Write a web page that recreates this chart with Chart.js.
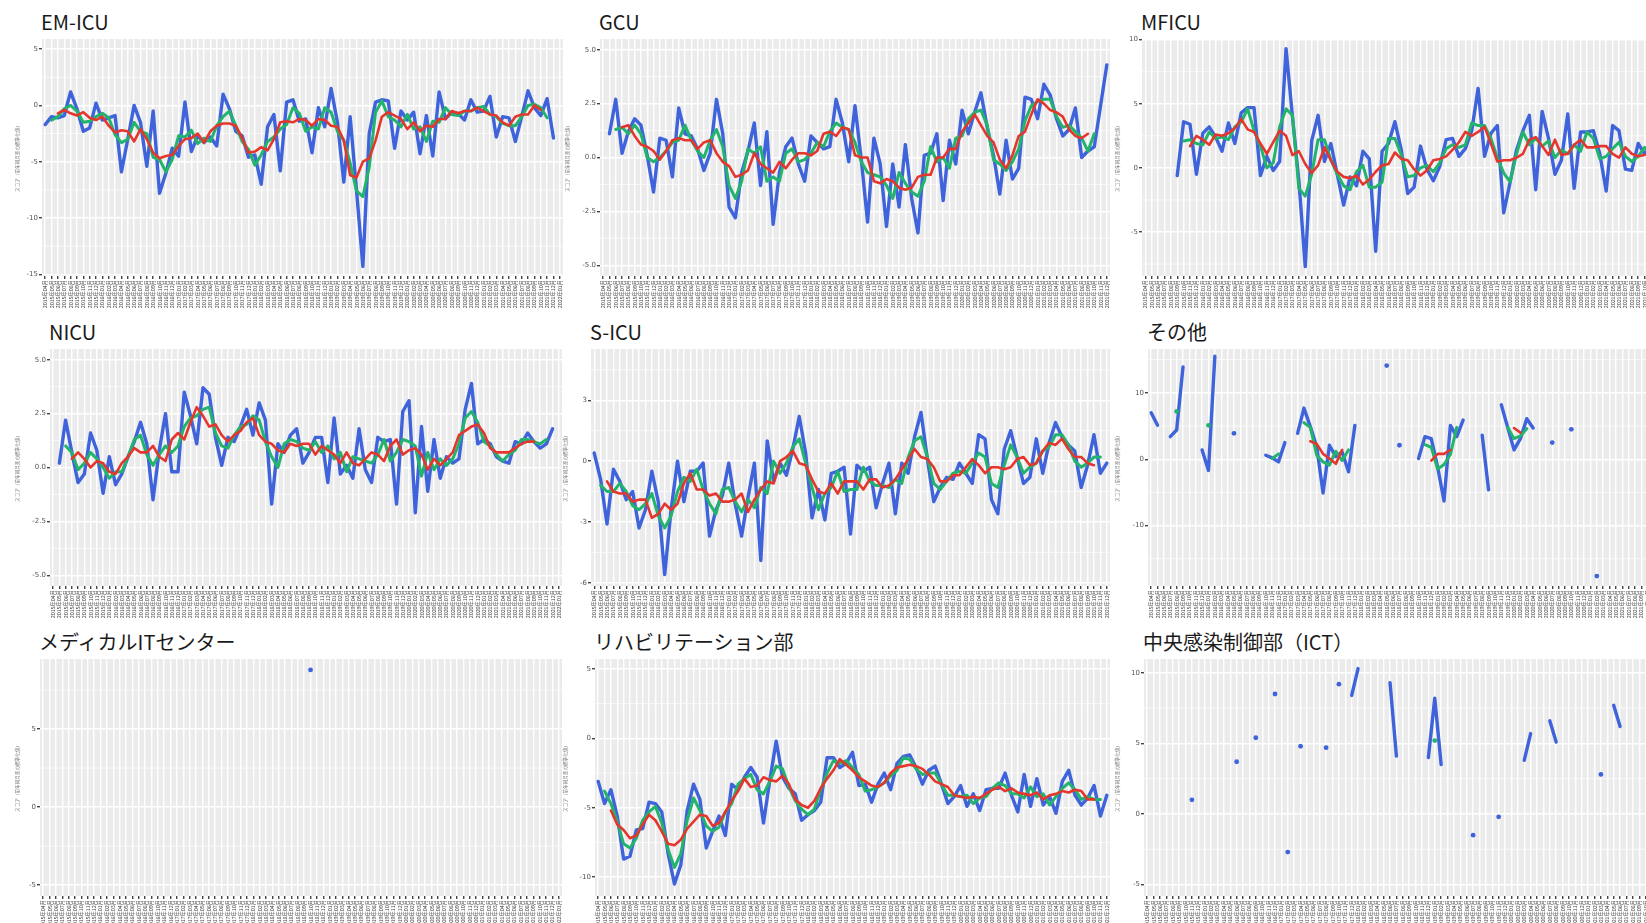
<!DOCTYPE html>
<html><head><meta charset="utf-8">
<script src="https://cdn.jsdelivr.net/npm/chart.js@4.4.1/dist/chart.umd.min.js"></script>
<style>
html,body{margin:0;padding:0;background:#fff;}
body{width:1646px;height:923px;overflow:hidden;position:relative;font-family:"Noto Sans CJK JP","Noto Sans",sans-serif;}
.title{position:absolute;font-size:20px;line-height:24px;height:24px;color:#1a1a1a;white-space:nowrap;}
.box{position:absolute;}
</style></head><body>
<script>
// ---------- categories (months) ----------
const months = ["2015年04月","2015年05月","2015年06月","2015年07月","2015年08月","2015年09月","2015年10月","2015年11月","2015年12月",
"2016年01月","2016年02月","2016年03月","2016年04月","2016年05月","2016年06月","2016年07月","2016年08月","2016年09月","2016年10月","2016年11月","2016年12月",
"2017年01月","2017年02月","2017年03月","2017年04月","2017年05月","2017年06月","2017年07月","2017年08月","2017年09月","2017年10月","2017年11月","2017年12月",
"2018年01月","2018年02月","2018年03月","2018年04月","2018年05月","2018年06月","2018年07月","2018年08月","2018年09月","2018年10月","2018年11月","2018年12月",
"2019年01月","2019年02月","2019年03月","2019年04月","2019年05月","2019年06月","2019年07月","2019年08月","2019年09月","2019年10月","2019年11月","2019年12月",
"2020年01月","2020年02月","2020年03月","2020年04月","2020年05月","2020年06月","2020年07月","2020年08月","2020年09月","2020年10月","2020年11月","2020年12月",
"2021年01月","2021年02月","2021年03月","2021年04月","2021年05月","2021年06月","2021年07月","2021年08月","2021年09月","2021年10月","2021年11月","2021年12月",
"2022年01月"];
const yTitle = "スコア（前年同月差の標準化値）";

// ---------- EM-ICU ----------
const emicuBlue = [-1.7,-1.0,-1.1,-0.9,1.2,-0.3,-2.3,-2.0,0.2,-1.3,-1.1,-0.9,-5.9,-3.0,0.0,-1.5,-5.4,-0.5,-7.8,-6.0,-3.8,-4.5,0.3,-4.1,-2.7,-3.3,-2.8,-3.6,1.0,-0.3,-2.3,-2.7,-4.6,-4.4,-7.0,-1.9,-0.8,-5.8,0.3,0.5,-1.4,-1.2,-4.2,-0.2,-1.9,1.5,-1.5,-6.8,-1.0,-7.5,-14.3,-2.5,0.3,0.5,0.4,-3.8,-0.5,-1.3,-0.6,-4.3,-0.9,-4.5,1.2,-1.2,-0.6,-0.7,-1.3,0.5,-0.6,-0.5,0.8,-2.8,-1.0,-1.1,-3.2,-1.0,1.3,-0.2,-0.9,0.6,-2.9];
const emicuGreen = [null,-1.3,-1.0,-0.3,0.0,-0.5,-1.5,-1.4,-1.0,-0.7,-1.1,-2.6,-3.3,-3.0,-1.5,-2.3,-2.5,-4.6,-4.8,-5.9,-4.8,-2.7,-2.8,-2.2,-3.4,-2.9,-3.2,-1.8,-1.0,-0.5,-1.8,-3.2,-3.9,-5.3,-4.4,-3.2,-2.8,-2.1,-1.7,-0.2,-0.7,-2.3,-1.9,-2.1,-0.2,-0.6,-2.3,-3.1,-5.1,-7.6,-8.1,-5.5,-0.6,0.4,-1.0,-1.3,-1.9,-0.8,-2.1,-1.9,-3.2,-1.4,-1.5,-0.2,-0.8,-0.9,-0.5,-0.5,-0.2,-0.1,-0.8,-1.0,-1.6,-1.8,-1.8,-1.0,0.0,0.1,-0.2,-1.1,null];
const emicuRed = [null,null,-0.7,-0.4,-0.7,-0.9,-0.6,-1.1,-1.3,-1.0,-1.8,-2.4,-2.2,-2.3,-3.2,-2.1,-3.0,-4.2,-4.7,-4.5,-4.4,-3.6,-3.0,-2.9,-2.5,-3.3,-2.3,-1.8,-1.6,-1.6,-1.8,-2.9,-4.2,-4.1,-3.7,-4.0,-3.0,-1.5,-1.4,-1.5,-1.2,-1.3,-1.8,-1.2,-1.3,-1.8,-1.9,-3.1,-6.2,-6.4,-5.0,-4.7,-3.1,-1.0,-0.6,-0.9,-1.2,-2.1,-1.5,-2.3,-1.8,-1.9,-1.2,-1.2,-0.5,-0.7,-0.5,-0.5,-0.2,-0.5,-0.8,-0.9,-1.5,-1.8,-1.0,-0.8,-0.8,0.0,-0.4,null,null];

// ---------- GCU ----------
const gcuBlue = [1.1,2.7,0.2,1.2,1.8,1.5,0.1,-1.6,0.9,0.8,-0.9,2.3,1.1,1.0,0.4,-0.6,0.2,2.7,1.1,-2.3,-2.8,-0.7,0.3,1.6,-1.3,1.2,-3.1,-0.7,0.5,0.9,-0.3,-1.1,1.0,0.7,0.4,0.5,2.7,1.6,-0.2,2.4,-0.1,-3.0,0.9,-0.3,-3.2,-0.3,-2.3,0.6,-1.9,-3.5,0.1,0.2,1.1,-2.0,0.8,-0.3,2.2,1.1,2.1,3.0,1.4,0.1,-1.7,0.8,-1.0,-0.5,2.8,2.7,1.8,3.4,2.9,1.8,1.0,1.3,2.3,0.0,0.3,0.5,2.4,4.3];
const gcuGreen = [null,1.3,1.4,1.1,1.5,1.1,0.0,-0.2,0.0,0.3,0.7,0.8,1.5,0.8,0.3,0.0,0.8,1.3,0.5,-1.3,-1.9,-1.1,0.4,0.2,0.5,-1.1,-0.9,-1.1,0.2,0.4,-0.2,-0.1,0.2,0.7,0.5,1.2,1.6,1.4,1.3,0.7,-0.2,-0.7,-0.8,-0.9,-1.3,-1.9,-0.7,-1.2,-1.6,-1.8,-1.1,0.5,-0.2,0.0,-0.5,0.9,1.0,1.8,2.1,2.2,1.5,-0.1,-0.3,-0.6,-0.2,0.4,1.7,2.4,2.6,2.7,2.7,1.9,1.4,1.5,1.2,0.9,0.3,1.1,null,null];
const gcuRed = [null,null,1.4,1.5,1.0,0.6,0.5,0.3,-0.1,0.3,0.8,0.9,0.8,0.8,0.4,0.7,0.8,0.2,-0.2,-0.4,-0.9,-0.8,-0.6,0.2,-0.3,-0.5,-0.7,-0.2,-0.5,-0.1,0.2,0.2,0.1,0.3,1.1,1.2,1.0,1.4,1.3,0.1,0.0,0.0,-1.1,-1.2,-1.0,-1.1,-1.4,-1.5,-1.4,-0.9,-0.8,-0.8,0.0,0.0,0.4,0.4,1.2,1.6,2.0,1.5,1.0,0.7,-0.1,-0.5,0.1,1.0,1.2,2.0,2.7,2.5,2.2,2.1,1.9,1.3,1.0,0.9,1.1,null,null,null];

// ---------- MFICU ----------
const mficuBlue = [-0.6,3.6,3.4,-0.5,2.7,3.2,2.4,1.3,3.5,1.9,4.3,4.7,4.7,-0.6,0.9,-0.2,0.5,9.3,4.0,-1.0,-7.7,2.1,4.1,0.5,1.9,-0.5,-2.9,-0.7,-1.4,1.3,0.7,-6.5,1.3,1.9,3.6,1.4,-2.0,-1.5,1.7,-0.1,-1.0,0.1,2.2,2.3,0.9,1.5,2.9,6.2,0.9,2.7,3.3,-3.5,-1.1,1.4,2.9,4.1,-1.7,4.4,2.3,-0.5,0.6,4.2,-1.6,2.8,2.8,2.9,1.1,-1.8,3.3,2.9,-0.1,-0.2,1.9,1.1,1.7,0.6];
const mficuGreen = [null,2.1,2.2,1.9,1.8,2.8,2.3,2.4,2.2,3.2,3.6,4.6,2.9,1.7,0.0,0.4,3.2,4.6,4.1,-1.6,-2.2,-0.5,2.2,2.2,0.6,-0.5,-1.4,-1.7,-0.3,0.2,-1.5,-1.5,-1.1,2.3,2.3,1.0,-0.7,-0.6,0.0,0.2,-0.3,0.4,1.5,1.8,1.6,1.8,3.5,3.3,3.3,2.3,0.8,-0.4,-1.1,1.1,2.8,1.8,2.3,1.7,2.1,0.8,1.4,1.1,1.8,1.3,2.8,2.3,0.7,0.9,1.5,2.0,0.9,0.5,0.9,1.6,1.1,null];
const mficuRed = [null,null,1.7,2.5,2.2,1.8,2.6,2.5,2.7,3.1,3.8,3.0,2.8,1.9,1.1,2.0,2.9,2.5,1.0,1.3,0.3,-0.4,0.2,1.6,0.6,-0.3,-0.7,-0.8,-0.6,-1.3,-0.9,-0.3,0.2,0.3,1.2,0.7,0.6,-0.1,-0.6,-0.2,0.6,0.7,0.9,1.4,2.0,2.8,2.5,2.8,3.2,1.9,0.5,0.6,0.6,0.8,1.1,2.2,2.4,1.7,1.0,2.2,1.0,1.1,1.8,2.2,1.6,1.6,1.7,1.7,1.1,0.8,1.6,1.1,0.9,1.0,null,null];

// ---------- NICU ----------
const nicuBlue = [0.2,2.2,0.7,-0.7,-0.3,1.6,0.8,-1.2,0.5,-0.8,-0.3,0.5,1.2,2.1,1.1,-1.5,0.8,2.5,-0.2,-0.2,3.5,2.4,1.1,3.7,3.4,1.4,0.1,1.4,1.2,1.9,2.7,1.5,3.0,2.2,-1.7,1.1,0.7,1.5,1.8,0.2,0.7,1.4,1.4,-0.7,2.3,-0.3,0.1,-0.5,1.8,-0.1,-0.7,1.4,1.2,1.3,-1.7,2.6,3.1,-2.1,1.9,-1.1,1.3,-0.5,0.5,0.2,0.4,2.7,3.9,1.1,1.3,1.1,0.5,0.3,0.2,1.2,1.1,1.6,1.2,0.9,1.1,1.8];
const nicuGreen = [null,1.0,0.7,-0.1,0.2,0.7,0.4,0.0,-0.5,-0.2,-0.2,0.5,1.3,1.5,0.6,0.1,0.6,1.0,0.7,1.0,1.9,2.3,2.4,2.7,2.8,1.6,1.0,0.9,1.5,1.9,2.0,2.4,2.2,1.2,0.5,0.0,1.1,1.3,1.2,0.9,0.8,1.2,0.7,1.0,0.4,0.7,-0.2,0.5,0.4,0.3,0.2,0.6,1.3,0.3,0.7,1.3,1.2,1.0,-0.4,0.7,-0.1,0.4,0.1,0.4,1.1,2.3,2.6,2.1,1.2,1.0,0.6,0.3,0.6,0.8,1.3,1.3,1.2,1.1,1.3,null];
const nicuRed = [null,null,0.4,0.7,0.4,0.0,0.3,0.2,-0.2,-0.3,0.2,0.5,0.9,0.7,0.7,1.0,0.5,0.3,1.3,1.6,1.3,2.1,2.8,2.4,1.9,2.0,1.5,1.2,1.5,1.7,2.1,2.3,1.5,1.2,1.1,0.8,0.7,1.1,1.0,1.1,1.1,0.6,1.0,0.8,0.6,0.2,0.7,0.2,0.1,0.4,0.7,0.6,0.3,1.0,1.3,0.6,0.8,0.9,0.6,-0.1,0.4,0.1,0.4,0.7,1.5,1.7,1.9,2.0,1.6,0.9,0.7,0.7,0.7,0.9,1.1,1.2,1.2,null,null,null];

// ---------- S-ICU ----------
const sicuBlue = [0.4,-0.9,-3.1,-0.4,-1.0,-1.9,-1.5,-3.3,-2.4,-0.5,-2.0,-5.6,-2.4,0.0,-2.0,-0.5,-0.5,-0.1,-3.7,-2.4,-1.7,-0.1,-2.1,-3.7,-1.8,-0.1,-4.9,1.0,-1.0,-0.1,-0.7,0.6,2.2,0.4,-2.8,-1.4,-2.9,-0.6,-0.5,-0.3,-3.6,-0.2,-0.5,-0.3,-2.3,-1.1,-0.1,-2.6,-0.1,-0.6,1.2,2.4,0.1,-2.0,-1.3,-0.8,-0.9,-0.1,-0.6,-1.1,1.3,1.1,-1.9,-2.6,0.6,1.5,0.2,-1.1,-0.8,1.1,-0.6,0.9,1.9,1.2,0.8,0.5,-1.3,-0.2,1.3,-0.6,-0.1];
const sicuGreen = [null,-1.2,-1.5,-1.5,-1.1,-1.5,-2.2,-2.4,-2.1,-1.6,-2.7,-3.3,-2.7,-1.5,-0.8,-1.0,-0.4,-1.4,-2.1,-2.6,-1.4,-1.3,-2.0,-2.5,-1.9,-2.3,-1.3,-1.6,0.0,-0.6,-0.1,0.7,1.1,-0.1,-1.3,-2.4,-1.6,-1.3,-0.5,-1.5,-1.4,-1.4,-0.3,-1.0,-1.2,-1.2,-1.3,-0.9,-1.1,0.2,1.0,1.2,0.2,-1.1,-1.4,-1.0,-0.6,-0.5,-0.6,-0.1,0.4,0.2,-1.1,-1.3,-0.2,0.8,0.2,-0.6,-0.3,-0.1,0.5,0.7,1.3,1.3,0.8,0.0,-0.3,-0.1,0.2,0.2,null];
const sicuRed = [null,null,-1.0,-1.5,-1.6,-1.6,-2.0,-1.9,-1.9,-2.8,-2.6,-2.1,-2.4,-2.1,-1.1,-0.6,-1.4,-1.4,-1.7,-1.6,-2.0,-2.0,-1.9,-1.6,-2.5,-1.9,-1.4,-1.0,-1.1,0.0,0.2,0.5,-0.1,-0.2,-0.9,-1.5,-1.6,-1.1,-1.6,-1.0,-1.0,-1.0,-1.4,-0.9,-0.9,-1.3,-1.2,-0.9,-0.4,0.1,0.6,0.2,0.1,-0.3,-1.0,-1.0,-0.7,-0.7,-0.3,0.1,-0.2,-0.6,-0.3,-0.3,-0.4,-0.3,0.1,0.2,-0.2,-0.1,0.5,0.9,0.8,1.1,0.6,0.2,0.2,-0.1,-0.2,null,null];

// ---------- その他 (sparse: category index / value) ----------
const otherBlueIdx = [0,1,3,4,5,8,9,10,13,18,19,20,21,23,24,25,26,27,28,29,30,31,32,37,39,42,43,44,45,46,47,48,49,52,53,55,56,57,58,59,60,63,66,70];
const otherBlueVal = [7.0,5.1,3.4,4.4,13.9,1.4,-1.7,15.5,3.9,0.6,0.2,-0.4,2.5,3.9,7.7,4.9,1.9,-5.1,2.1,0.4,1.1,-1.9,5.1,14.1,2.1,0.1,3.4,3.1,-1.2,-6.3,5.1,3.4,5.9,3.6,-4.6,8.2,4.8,1.4,3.1,6.1,4.7,2.5,4.5,-17.6];
const otherGreenIdx = [4,9,19,20,24,25,26,27,28,29,30,31,43,44,45,46,47,48,56,57,58,59];
const otherGreenVal = [7.2,5.1,0.1,0.8,5.5,4.8,0.6,-0.4,-0.9,1.2,-0.2,1.4,2.2,1.8,-1.5,-0.8,0.7,4.8,4.8,3.1,3.5,4.6];
const otherRedIdx = [25,26,27,28,29,30,44,45,46,47,57,58];
const otherRedVal = [2.7,2.3,0.8,0.1,-0.7,1.4,-0.2,0.8,0.8,1.4,4.7,4.0];

// ---------- メディカルITセンター ----------
const medBlueIdx = [42];
const medBlueVal = [8.8];

// ---------- リハビリテーション部 ----------
const rehaBlue = [-3.1,-4.7,-3.7,-5.6,-8.7,-8.5,-6.6,-6.5,-4.6,-4.7,-5.3,-8.3,-10.5,-9.1,-5.2,-3.3,-4.4,-7.9,-6.7,-5.6,-7.0,-3.3,-3.7,-2.8,-2.1,-2.8,-6.1,-3.0,-0.2,-2.8,-3.6,-4.0,-5.9,-5.5,-5.2,-4.6,-1.4,-1.4,-2.1,-1.8,-1.0,-3.4,-3.3,-4.6,-3.3,-2.5,-3.7,-1.8,-1.3,-1.2,-2.1,-3.3,-2.3,-2.0,-3.3,-4.7,-4.2,-3.4,-4.9,-4.0,-5.2,-3.7,-3.6,-3.6,-2.5,-4.1,-5.3,-2.6,-4.9,-2.9,-4.8,-4.2,-5.4,-3.1,-2.3,-4.1,-4.8,-4.3,-3.4,-5.6,-4.1];
const rehaGreen = [null,-3.8,-4.7,-6.0,-7.6,-7.9,-7.2,-5.9,-5.3,-4.9,-6.1,-8.0,-9.3,-8.3,-5.9,-4.3,-5.2,-6.3,-6.7,-6.4,-5.3,-4.7,-3.3,-2.9,-2.6,-3.7,-4.0,-3.1,-2.0,-2.2,-3.5,-4.5,-5.1,-5.5,-5.1,-3.7,-2.5,-1.6,-1.8,-1.6,-2.1,-2.6,-3.8,-3.7,-3.5,-3.2,-2.7,-2.3,-1.4,-1.5,-2.2,-2.6,-2.5,-2.5,-3.3,-4.1,-4.1,-4.2,-4.1,-4.7,-4.3,-4.2,-3.6,-3.2,-3.4,-4.0,-4.0,-4.3,-3.5,-4.2,-4.0,-4.8,-4.2,-3.6,-3.2,-3.7,-4.4,-4.2,-4.4,-4.4,null];
const rehaRed = [null,null,-5.2,-6.2,-6.6,-7.2,-7.0,-6.2,-5.5,-5.9,-6.7,-7.6,-7.7,-7.3,-6.5,-6.0,-5.5,-5.6,-6.3,-6.1,-5.3,-4.5,-3.8,-2.9,-3.5,-3.4,-2.8,-3.0,-3.1,-2.7,-3.3,-4.4,-4.8,-5.0,-4.5,-3.6,-2.9,-2.3,-1.5,-1.9,-2.3,-2.8,-3.1,-3.4,-3.5,-3.2,-2.5,-2.1,-2.0,-1.9,-2.0,-2.2,-2.6,-3.1,-3.3,-3.5,-4.1,-4.2,-4.3,-4.2,-4.3,-4.0,-3.7,-3.5,-3.8,-3.6,-3.9,-4.0,-4.1,-3.9,-4.4,-4.1,-4.0,-3.8,-3.9,-3.7,-3.8,-4.4,-4.4,null,null];

// ---------- 中央感染制御部（ICT） ----------
const ictBlueIdx = [7,14,17,20,22,24,28,30,32,33,38,39,44,45,46,51,55,59,60,63,64,71,73,74];
const ictBlueVal = [1.0,3.7,5.4,8.5,-2.7,4.8,4.7,9.2,8.4,10.3,9.3,4.1,4.0,8.2,3.5,-1.5,-0.2,3.8,5.7,6.6,5.1,2.8,7.7,6.2];
const ictGreenIdx = [45];
const ictGreenVal = [5.2];

// ---------- helpers that build full-length tables ----------
function place(arr, start, n){ const a = new Array(n).fill(null); arr.forEach((v,i)=>{ if(start+i<n) a[start+i]=v; }); return a; }
function scatterTo(idx, vals, n){ const a = new Array(n).fill(null); idx.forEach((k,i)=>{ a[k]=vals[i]; }); return a; }

const BLUE = '#3F63DA', GREEN = '#22B46C', RED = '#E5362E';

const panels = [
  {title:'EM-ICU', left:42, top:39, w:521, yW:28, n:82, blue:place(emicuBlue,0,82), green:place(emicuGreen,0,82), red:place(emicuRed,0,82), min:-15.15, max:5.9, step:5, dec:0},
  {title:'GCU', left:600, top:39, w:510, yW:36, n:81, blue:place(gcuBlue,1,81), green:place(gcuGreen,1,81), red:place(gcuRed,1,81), min:-5.5, max:5.5, step:2.5, dec:1},
  {title:'MFICU', left:1142, top:39, w:525, yW:28, n:82, blue:place(mficuBlue,5,82), green:place(mficuGreen,5,82), red:place(mficuRed,5,82), min:-8.43, max:10.05, step:5, dec:0},
  {title:'NICU', left:50, top:349, w:512, yW:36, n:82, blue:place(nicuBlue,1,82), green:place(nicuGreen,1,82), red:place(nicuRed,1,82), min:-5.5, max:5.5, step:2.5, dec:1},
  {title:'S-ICU', left:591, top:349, w:519, yW:29, n:81, blue:place(sicuBlue,0,81), green:place(sicuGreen,0,81), red:place(sicuRed,0,81), min:-6.16, max:5.53, step:3, dec:0},
  {title:'その他', left:1148, top:349, w:522, yW:34, n:82, blue:scatterTo(otherBlueIdx,otherBlueVal,82), green:scatterTo(otherGreenIdx,otherGreenVal,82), red:scatterTo(otherRedIdx,otherRedVal,82), min:-19.1, max:16.6, step:10, dec:0},
  {title:'メディカルITセンター', left:40, top:659, w:522, yW:26, n:82, blue:scatterTo(medBlueIdx,medBlueVal,82), green:new Array(82).fill(null), red:new Array(82).fill(null), min:-5.7, max:9.5, step:5, dec:0},
  {title:'リハビリテーション部', left:595, top:659, w:515, yW:33, n:81, blue:place(rehaBlue,0,81), green:place(rehaGreen,0,81), red:place(rehaRed,0,81), min:-11.36, max:5.72, step:5, dec:0},
  {title:'中央感染制御部（ICT）', left:1144, top:659, w:524, yW:30, n:82, blue:scatterTo(ictBlueIdx,ictBlueVal,82), green:scatterTo(ictGreenIdx,ictGreenVal,82), red:new Array(82).fill(null), min:-5.81, max:10.98, step:5, dec:0}
];

const PLOT_H = 237, X_H = 34, PAD_T = 6;

const panelBg = { id:'panelBg', beforeDraw(chart){ const {ctx, chartArea:a} = chart; ctx.save(); ctx.fillStyle='#EBEBEB'; ctx.fillRect(a.left,a.top,a.right-a.left,a.bottom-a.top); ctx.restore(); } };
const minorGrid = { id:'minorGrid', beforeDatasetsDraw(chart){
  const y = chart.scales.y, a = chart.chartArea, ctx = chart.ctx;
  const t = y.ticks.map(k=>k.value); if (t.length < 2) return;
  const st = t[1]-t[0];
  ctx.save(); ctx.strokeStyle='#FFFFFF'; ctx.lineWidth=0.7;
  for (let v = t[0]-st/2; v <= y.max; v += st) { if (v < y.min) continue; const py = y.getPixelForValue(v); ctx.beginPath(); ctx.moveTo(a.left,py); ctx.lineTo(a.right,py); ctx.stroke(); }
  ctx.restore(); } };

function isoRadius(ctx){
  const d = ctx.dataset.data, i = ctx.dataIndex;
  if (d[i] == null) return 0;
  const p = i>0 ? d[i-1] : null, q = i<d.length-1 ? d[i+1] : null;
  return (p == null && q == null) ? 2.4 : 0;
}

panels.forEach(p => {
  const t = document.createElement('div');
  t.className = 'title'; t.textContent = p.title;
  t.style.left = (p.left - 1) + 'px'; t.style.top = (p.top - 29) + 'px';
  document.body.appendChild(t);

  const box = document.createElement('div');
  box.className = 'box';
  box.style.left = (p.left - p.yW) + 'px'; box.style.top = (p.top - PAD_T) + 'px';
  box.style.width = (p.w + p.yW) + 'px'; box.style.height = (PLOT_H + X_H + PAD_T) + 'px';
  const cv = document.createElement('canvas');
  box.appendChild(cv); document.body.appendChild(box);

  const mk = (data, color, width, order) => ({data, borderColor:color, backgroundColor:color, pointBackgroundColor:color, pointBorderWidth:0, borderWidth:width, order, spanGaps:false, tension:0, pointRadius:isoRadius, pointHoverRadius:0, borderJoinStyle:'round', borderCapStyle:'round'});

  new Chart(cv, {
    type:'line',
    data:{ labels: months.slice(0, p.n), datasets:[ mk(p.red, RED, 2.6, 0), mk(p.green, GREEN, 3.0, 1), mk(p.blue, BLUE, 3.4, 2) ] },
    options:{
      responsive:true, maintainAspectRatio:false, animation:false, devicePixelRatio:1,
      layout:{padding:{top:PAD_T, left:0, right:0, bottom:0}},
      events:[],
      plugins:{legend:{display:false}, tooltip:{enabled:false}, title:{display:false}},
      scales:{
        x:{ type:'category', offset:true,
            grid:{color:'#FFFFFF', lineWidth:1.4, tickColor:'#444', tickLength:3, drawTicks:true, offset:false},
            border:{display:false},
            ticks:{autoSkip:false, maxRotation:90, minRotation:90, padding:1, color:'#444', font:{size:5.3, family:'"Noto Sans CJK JP", sans-serif'}},
            afterFit(s){ s.height = X_H; s.paddingLeft = 0; s.paddingRight = 0; } },
        y:{ min:p.min, max:p.max,
            grid:{color:'#FFFFFF', lineWidth:1.4, tickColor:'#444', tickLength:3},
            border:{display:false},
            ticks:{stepSize:p.step, includeBounds:false, padding:1, color:'#555', font:{size:7, family:'"DejaVu Sans", sans-serif'}, callback:(v)=>Number(v).toFixed(p.dec)},
            title:{display:true, text:yTitle, color:'#777', padding:{top:0,bottom:0}, font:{size:4.6, family:'"Noto Sans CJK JP", sans-serif'}},
            afterFit(s){ s.width = p.yW; s.paddingTop = 0; s.paddingBottom = 0; } }
      }
    },
    plugins:[panelBg, minorGrid]
  });
});
</script>
</body></html>
